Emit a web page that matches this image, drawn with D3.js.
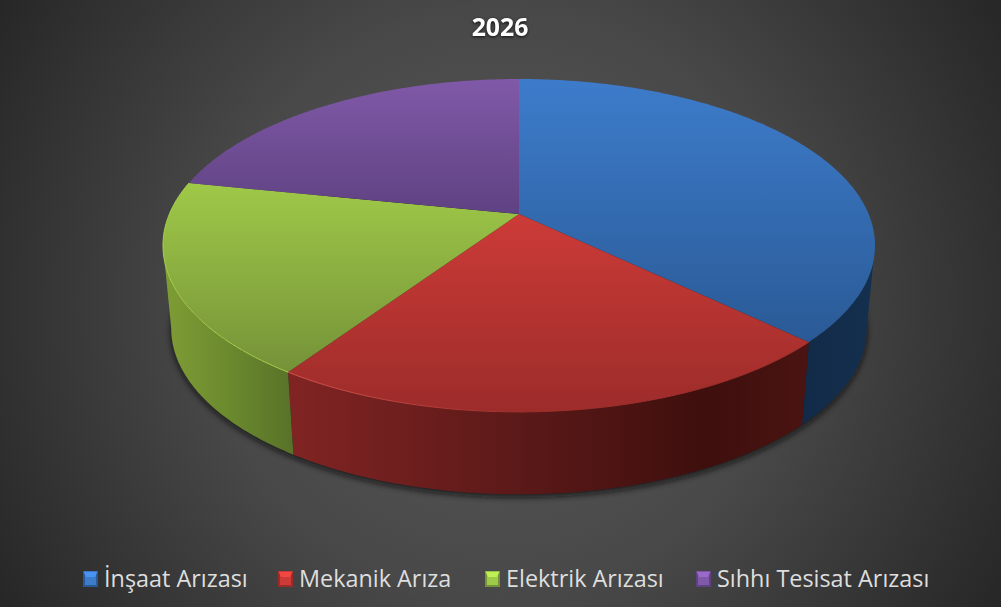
<!DOCTYPE html>
<html>
<head>
<meta charset="utf-8">
<script src="https://d3js.org/d3.v7.min.js"></script>
<style>
html, body { margin: 0; padding: 0; background: #333; }
svg { display: block; }
text { font-family: "Open Sans", sans-serif; }
.chart-title { filter: drop-shadow(0 1px 1.5px rgba(0, 0, 0, 0.8)); }
</style>
</head>
<body>
<div id="chart"></div>
<script>
var categories = ["İnşaat Arızası", "Mekanik Arıza", "Elektrik Arızası", "Sıhhı Tesisat Arızası"];
var values = [37.2, 22.2, 18.8, 21.8];
var chartTitle = "2026";
var topLight = ["#3d7ccb", "#cc3b37", "#9fc948", "#8059a8"];
var topDark = ["#2a5a96", "#9c2c2a", "#759238", "#5f4282"];
var legendX = [83, 278, 485, 696];

var svgWidth = 1001;
var svgHeight = 607;

var svg = d3.select("#chart")
    .append("svg")
    .attr("width", svgWidth)
    .attr("height", svgHeight);

var defs = svg.append("defs");

// Dark background, lighter towards the middle
var bg = defs.append("radialGradient")
    .attr("id", "bg")
    .attr("gradientUnits", "userSpaceOnUse")
    .attr("cx", 500).attr("cy", 303).attr("r", 590);
bg.append("stop").attr("offset", "0").attr("stop-color", "#5a5a5a");
bg.append("stop").attr("offset", "0.5").attr("stop-color", "#484848");
bg.append("stop").attr("offset", "1").attr("stop-color", "#262626");

svg.append("rect")
    .attr("width", svgWidth)
    .attr("height", svgHeight)
    .attr("fill", "url(#bg)");

var blur = defs.append("filter")
    .attr("id", "soft")
    .attr("x", "-10%").attr("y", "-10%")
    .attr("width", "120%").attr("height", "120%");
blur.append("feGaussianBlur").attr("stdDeviation", 3);

// Perspective projection of the pie: one plane for the top, one for the base
var tilt = 0.189;
var topPlane = {
    x: d3.scaleLinear().domain([-1, 1]).range([169.4, 868.6]),
    y: d3.scaleLinear().domain([-1, 1]).range([53.5, 374.5])
};
var basePlane = {
    x: d3.scaleLinear().domain([-1, 1]).range([177.5, 860.5]),
    y: d3.scaleLinear().domain([-1, 1]).range([137, 457])
};

function project(plane, a) {
    var d = 1 + tilt * Math.cos(a);
    return [plane.x(Math.sin(a) / d), plane.y(-Math.cos(a) / d)];
}

function arcPoints(plane, a0, a1) {
    var n = Math.max(2, Math.ceil((a1 - a0) / 0.01));
    return d3.range(n + 1).map(function (i) {
        return project(plane, a0 + (a1 - a0) * i / n);
    });
}

var pie = d3.pie().sort(null).value(function (d) { return d; });
var slices = pie(values);
var line = d3.line();
var full = 2 * Math.PI;

// Only the front part of the wall shows, between the two silhouette angles
var frontStart = Math.acos(-tilt);
var frontEnd = full - frontStart;

// Shadow under the base
svg.append("path")
    .attr("d", line(arcPoints(basePlane, 0, full).map(function (p) { return [p[0], p[1] + 3]; })) + "Z")
    .attr("fill", "#111")
    .attr("opacity", 0.8)
    .attr("filter", "url(#soft)");

// Walls get a left to right falloff, each slice with its own colour
var wallStops = [
    [[0, "#122a47"], [1, "#14304f"]],
    [[0, "#802423"], [0.45, "#5a1918"], [0.8, "#3e0f0d"], [1, "#4a1412"]],
    [[0, "#7f9d35"], [0.5, "#6b8a2e"], [1, "#587228"]],
    [[0, "#3a2a52"], [1, "#3a2a52"]]
];
var wallRange = [[800, 875], [293, 810], [163, 293], [163, 520]];

slices.forEach(function (s, i) {
    var g = defs.append("linearGradient")
        .attr("id", "wall" + i)
        .attr("gradientUnits", "userSpaceOnUse")
        .attr("x1", wallRange[i][0]).attr("x2", wallRange[i][1])
        .attr("y1", 0).attr("y2", 0);
    wallStops[i].forEach(function (st) {
        g.append("stop").attr("offset", st[0]).attr("stop-color", st[1]);
    });
});

svg.append("g").selectAll("path")
    .data(slices.filter(function (s) { return s.endAngle > frontStart && s.startAngle < frontEnd; }))
    .enter()
    .append("path")
    .attr("d", function (s) {
        var a0 = Math.max(s.startAngle, frontStart);
        var a1 = Math.min(s.endAngle, frontEnd);
        var upper = arcPoints(topPlane, a0, a1);
        var lower = arcPoints(basePlane, a0, a1).reverse();
        return line(upper.concat(lower)) + "Z";
    })
    .attr("fill", function (s) { return "url(#wall" + s.index + ")"; });

// Top face of each slice, shaded from its own highest to lowest point
slices.forEach(function (s, i) {
    var pts = arcPoints(topPlane, s.startAngle, s.endAngle);
    pts.push([topPlane.x(0), topPlane.y(0)]);
    var g = defs.append("linearGradient")
        .attr("id", "top" + i)
        .attr("gradientUnits", "userSpaceOnUse")
        .attr("x1", 0).attr("x2", 0)
        .attr("y1", d3.min(pts, function (p) { return p[1]; }))
        .attr("y2", d3.max(pts, function (p) { return p[1]; }));
    g.append("stop").attr("offset", 0).attr("stop-color", topLight[i]);
    g.append("stop").attr("offset", 1).attr("stop-color", topDark[i]);
});

svg.append("g").selectAll("path")
    .data(slices)
    .enter()
    .append("path")
    .attr("d", function (s) {
        var pts = arcPoints(topPlane, s.startAngle, s.endAngle);
        pts.push([topPlane.x(0), topPlane.y(0)]);
        return line(pts) + "Z";
    })
    .attr("fill", function (d, i) { return "url(#top" + i + ")"; });

// Thin bright bevel along the front rim, fading out on the red slice
var redRim = defs.append("linearGradient")
    .attr("id", "redRim")
    .attr("gradientUnits", "userSpaceOnUse")
    .attr("x1", 290).attr("x2", 530)
    .attr("y1", 0).attr("y2", 0);
redRim.append("stop").attr("offset", 0).attr("stop-color", "#d8534c");
redRim.append("stop").attr("offset", 1).attr("stop-color", "#a02e2c");

var rimColor = ["none", "url(#redRim)", "#a8d24f", "none"];
svg.append("g").selectAll("path")
    .data(slices)
    .enter()
    .append("path")
    .attr("d", function (s) { return line(arcPoints(topPlane, s.startAngle, s.endAngle)); })
    .attr("fill", "none")
    .attr("stroke", function (d, i) { return rimColor[i]; })
    .attr("stroke-width", 1);

svg.append("text")
    .attr("class", "chart-title")
    .attr("x", 500)
    .attr("y", 36)
    .attr("text-anchor", "middle")
    .attr("font-size", 24.8)
    .attr("font-weight", 700)
    .attr("fill", "#fff")
    .text(chartTitle);

// Legend
var legend = svg.append("g").selectAll("g")
    .data(categories)
    .enter()
    .append("g")
    .attr("transform", function (d, i) { return "translate(" + legendX[i] + ",571)"; });

legend.append("rect")
    .attr("width", 15)
    .attr("height", 16)
    .attr("fill", function (d, i) { return topDark[i]; });

legend.append("rect")
    .attr("x", 2)
    .attr("y", 3)
    .attr("width", 11)
    .attr("height", 11)
    .attr("fill", function (d, i) { return topLight[i]; });

legend.append("path")
    .attr("d", "M0.5,0.5H14.5L12,6H3Z")
    .attr("fill", function (d, i) { return d3.color(topLight[i]).brighter(0.5); });

legend.append("text")
    .attr("x", 21)
    .attr("y", 16)
    .attr("font-size", 23.4)
    .attr("fill", "#dedede")
    .text(function (d) { return d; });
</script>
</body>
</html>
